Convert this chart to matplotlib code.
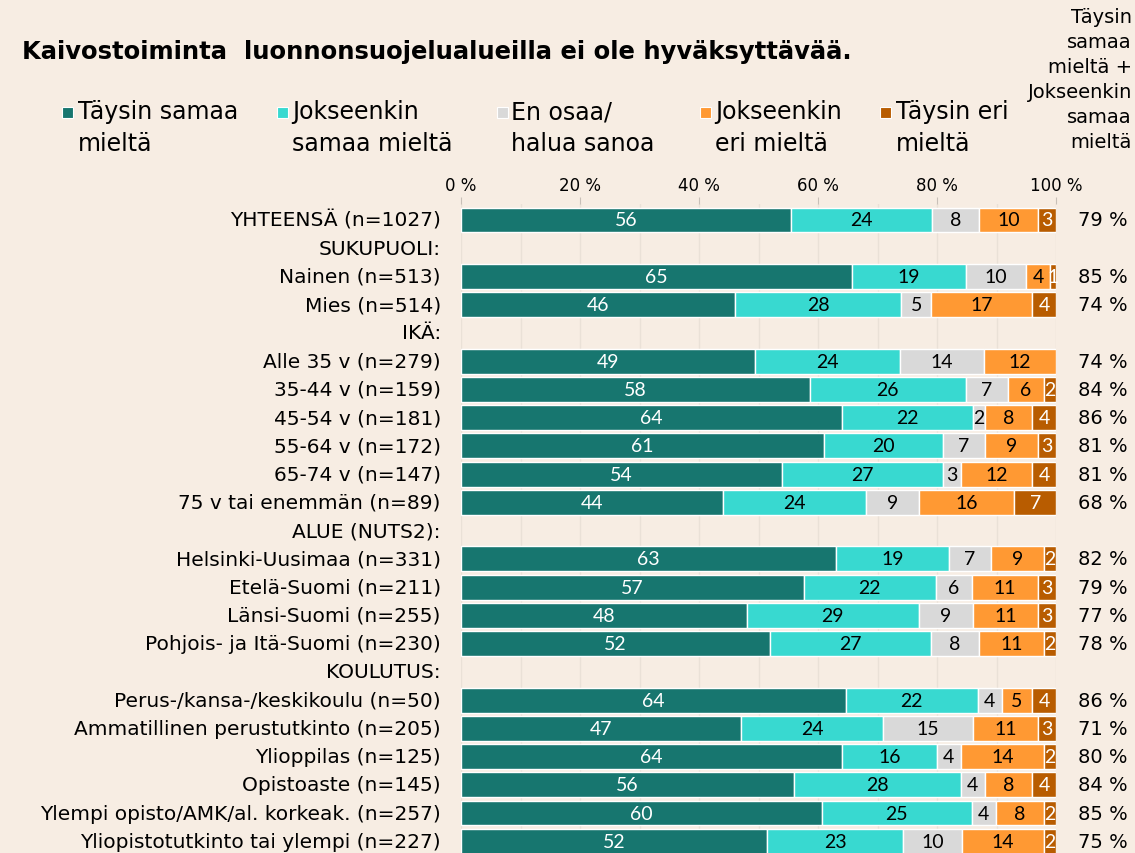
import numpy as np
import matplotlib
matplotlib.use("Agg")
from matplotlib import pyplot as plt
from matplotlib.patches import Rectangle

plt.rcParams['font.family'] = ['DejaVu Sans']

# rows of the chart, header rows have no bar
row_labels = [
    "YHTEENSÄ (n=1027)", "SUKUPUOLI:", "Nainen (n=513)", "Mies (n=514)", "IKÄ:",
    "Alle 35 v (n=279)", "35-44 v (n=159)", "45-54 v (n=181)", "55-64 v (n=172)",
    "65-74 v (n=147)", "75 v tai enemmän (n=89)", "ALUE (NUTS2):",
    "Helsinki-Uusimaa (n=331)", "Etelä-Suomi (n=211)", "Länsi-Suomi (n=255)",
    "Pohjois- ja Itä-Suomi (n=230)", "KOULUTUS:",
    "Perus-/kansa-/keskikoulu (n=50)", "Ammatillinen perustutkinto (n=205)",
    "Ylioppilas (n=125)", "Opistoaste (n=145)",
    "Ylempi opisto/AMK/al. korkeak. (n=257)", "Yliopistotutkinto tai ylempi (n=227)",
]

taysin_samaa = [56, None, 65, 46, None, 49, 58, 64, 61, 54, 44, None, 63, 57, 48, 52, None, 64, 47, 64, 56, 60, 52]
jokseenkin_samaa = [24, None, 19, 28, None, 24, 26, 22, 20, 27, 24, None, 19, 22, 29, 27, None, 22, 24, 16, 28, 25, 23]
en_osaa = [8, None, 10, 5, None, 14, 7, 2, 7, 3, 9, None, 7, 6, 9, 8, None, 4, 15, 4, 4, 4, 10]
jokseenkin_eri = [10, None, 4, 17, None, 12, 6, 8, 9, 12, 16, None, 9, 11, 11, 11, None, 5, 11, 14, 8, 8, 14]
taysin_eri = [3, None, 1, 4, None, 0, 2, 4, 3, 4, 7, None, 2, 3, 3, 2, None, 4, 3, 2, 4, 2, 2]

samaa_yht = ["79 %", "", "85 %", "74 %", "", "74 %", "84 %", "86 %", "81 %", "81 %", "68 %", "",
             "82 %", "79 %", "77 %", "78 %", "", "86 %", "71 %", "80 %", "84 %", "85 %", "75 %"]

legend_labels = ["Täysin samaa\nmieltä", "Jokseenkin\nsamaa mieltä", "En osaa/\nhalua sanoa",
                 "Jokseenkin\neri mieltä", "Täysin eri\nmieltä"]
colors = ["#17766F", "#38D9D0", "#D9D9D9", "#FF9933", "#B85C00"]
text_colors = ["white", "black", "black", "black", "white"]

bg = "#F7EDE3"
fig = plt.figure(figsize=(11.35, 8.54), dpi=100, facecolor=bg)
ax = fig.add_axes([461 / 1135, 0, 595 / 1135, 1 - 205 / 854])
ax.set_facecolor(bg)

series = [taysin_samaa, jokseenkin_samaa, en_osaa, jokseenkin_eri, taysin_eri]
n = len(row_labels)
for i in range(n):
    if taysin_samaa[i] is None:
        continue
    vals = np.array([s[i] for s in series], dtype=float)
    # bars are drawn to full width from unrounded shares
    scaled = vals / vals.sum() * 100
    left = 0.0
    for k, (v, w) in enumerate(zip(vals, scaled)):
        if w > 0:
            ax.barh(i, w, left=left, height=0.88, color=colors[k], edgecolor="white",
                    linewidth=1, zorder=3)
            ax.text(left + w / 2, i, f"{int(v)}", ha="center", va="center",
                    color=text_colors[k], fontsize=14, family="Lato", zorder=4)
        left += w

for i, lab in enumerate(row_labels):
    ax.text(-0.034, i, lab, transform=ax.get_yaxis_transform(), ha="right", va="center",
            fontsize=14.5)
    ax.text(1.12, i, samaa_yht[i], transform=ax.get_yaxis_transform(), ha="right",
            va="center", fontsize=14)

ax.set_xlim(0, 100)
ax.set_ylim((854 - 221) / 28.24, -(221 - 205) / 28.24)
ax.set_xticks(np.arange(0, 101, 10), minor=True)
ax.set_xticks(np.arange(0, 101, 20))
ax.set_xticklabels([f"{t} %" for t in range(0, 101, 20)], fontsize=12)
ax.xaxis.tick_top()
ax.tick_params(axis="x", which="both", length=5, color="#C8C0B8", pad=2)
ax.tick_params(axis="x", which="minor", length=0)
ax.set_yticks([])
ax.grid(True, axis="x", which="both", color="#EAE1D7", linewidth=1, zorder=0)
for s in ax.spines.values():
    s.set_visible(False)

fig.text(22 / 1135, 1 - 52 / 854, "Kaivostoiminta  luonnonsuojelualueilla ei ole hyväksyttävää.",
         ha="left", va="center", fontsize=17.5, fontweight="bold")

sq_x = [62, 277, 497, 700, 880]
tx_x = [78, 292, 511, 715, 896]
for k, lab in enumerate(legend_labels):
    fig.patches.append(Rectangle((sq_x[k] / 1135, 1 - 119 / 854), 11 / 1135, 11 / 854,
                                 transform=fig.transFigure, facecolor=colors[k],
                                 edgecolor="white", linewidth=0.8))
    fig.text(tx_x[k] / 1135, 1 - 100 / 854, lab, ha="left", va="top", fontsize=17,
             linespacing=1.42)

fig.text(1132 / 1135, 1 - 8 / 854, "Täysin\nsamaa\nmieltä +\nJokseenkin\nsamaa\nmieltä",
         ha="right", va="top", fontsize=14, multialignment="right", linespacing=1.4)

fig.savefig("out.png", dpi=100, facecolor=bg)
